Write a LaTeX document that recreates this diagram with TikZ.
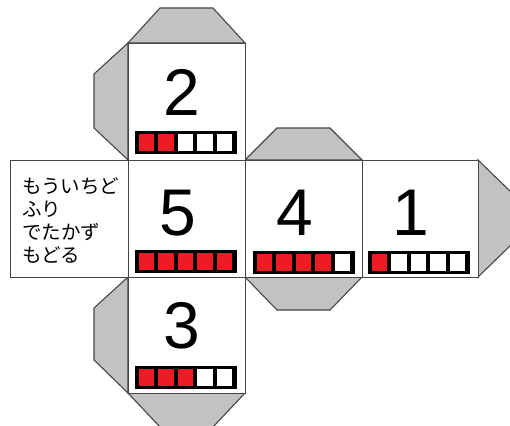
\documentclass[tikz,border=0pt]{standalone}
\usepackage{fontspec}
\setmainfont{Liberation Sans}
\newfontfamily\jpfont{Noto Sans CJK JP}
\definecolor{flapgray}{RGB}{194,194,194}
\definecolor{edge}{RGB}{70,70,70}
\definecolor{dotred}{RGB}{237,28,36}
\tikzset{
  face/.style={draw=edge, line width=1.3pt, fill=white, rectangle, inner sep=0pt,
    minimum width=117pt, minimum height=117pt, anchor=north west},
  flap/.style={draw=edge, line width=1.1pt, fill=flapgray, line join=miter},
  digit/.style={anchor=base, inner sep=0pt, font=\fontsize{66}{66}\selectfont},
  jline/.style={anchor=base west, inner sep=0pt, font=\jpfont\fontsize{19.5}{19.5}\selectfont},
}
\newcommand{\pipbar}[3]{% x, top y, number red
  \fill[black] (#1,#2) rectangle ++(102,23);
  \foreach \k in {1,...,5}{
    \pgfmathsetmacro{\cx}{#1+3.5+(\k-1)*19.5}
    \ifnum\k>#3\relax
      \fill[white] (\cx,#2+3) rectangle ++(15.5,17);
    \else
      \fill[dotred] (\cx,#2+3) rectangle ++(15.5,17);
    \fi
  }
}
\begin{document}
\begin{tikzpicture}[x=1pt,y=-1pt]
\useasboundingbox (0,0) rectangle (510,425);
\begin{scope}
\clip (0,0) rectangle (510,425);
% flaps
\draw[flap] (128,43) -- (160,8) -- (213,8) -- (245,43) -- cycle;
\draw[flap] (128,43) -- (94,74) -- (94,128) -- (128,160) -- cycle;
\draw[flap] (245,160) -- (277,128) -- (330,128) -- (362,160) -- cycle;
\draw[flap] (245,277) -- (277,310) -- (330,310) -- (362,277) -- cycle;
\draw[flap] (478,160) -- (513,194) -- (513,243) -- (478,277) -- cycle;
\draw[flap] (128,277) -- (94,308) -- (94,360) -- (128,393) -- cycle;
\draw[flap] (128,393) -- (160,427) -- (213,427) -- (245,393) -- cycle;
\end{scope}
% faces
\node[face, minimum width=118pt] (txt) at (10,160) {};
\node[face] (s2) at (128,43) {};
\node[face] (s5) at (128,160) {};
\node[face] (s4) at (245,160) {};
\node[face, minimum width=116pt] (s1) at (362,160) {};
\node[face, minimum height=116pt] (s3) at (128,277) {};
% digits
\node[digit] (d2) at (181.5,115) {2};
\node[digit] (d5) at (178,235) {5};
\node[digit] (d4) at (295,235) {4};
\node[digit] (d1) at (411,235) {1};
\node[digit] (d3) at (181.5,348) {3};
% bars
\pipbar{135}{131}{2}
\pipbar{135}{250}{5}
\pipbar{253}{251}{4}
\pipbar{368}{251}{1}
\pipbar{135}{366}{3}
% text
\node[jline] (j1) at (22,193) {もういちど};
\node[jline] (j2) at (22,216) {ふり};
\node[jline] (j3) at (22,239) {でたかず};
\node[jline] (j4) at (22,262) {もどる};
\end{tikzpicture}
\end{document}
